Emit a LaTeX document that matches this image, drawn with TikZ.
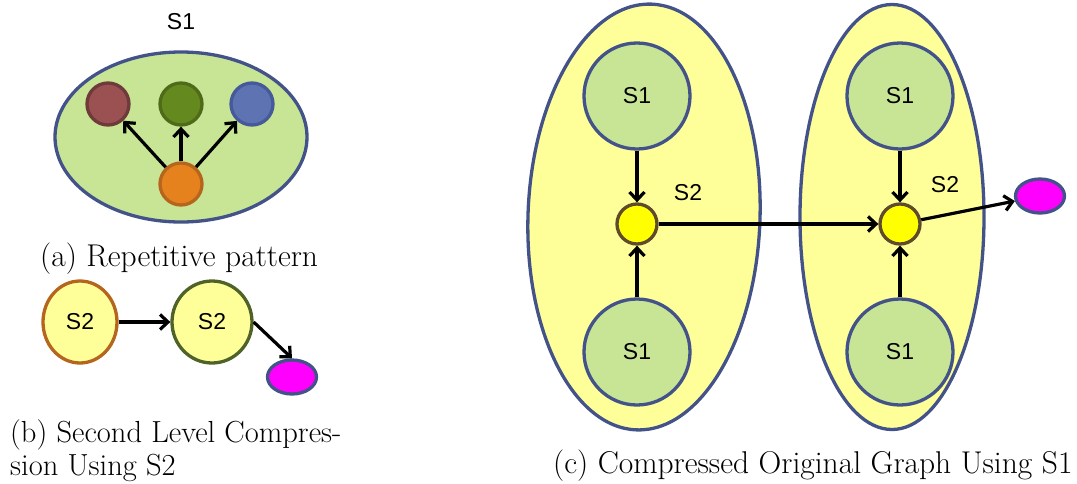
\documentclass[tikz,border=0pt]{standalone}
\usepackage{fontspec}
\newfontfamily\labfont{Liberation Sans}
\usetikzlibrary{arrows.meta,shapes.geometric}

\definecolor{rim}{HTML}{435389}
\definecolor{leaf}{HTML}{C8E596}
\definecolor{pale}{HTML}{FFFF99}
\definecolor{hubfill}{HTML}{FFFF00}
\definecolor{tipfill}{HTML}{FF00FF}
\definecolor{redfill}{HTML}{9B5152}
\definecolor{redrim}{HTML}{6E3A3A}
\definecolor{grnfill}{HTML}{64891E}
\definecolor{grnrim}{HTML}{4F6B1A}
\definecolor{bluefill}{HTML}{5E74B2}
\definecolor{bluerim}{HTML}{46599A}
\definecolor{orfill}{HTML}{E6821E}
\definecolor{orrim}{HTML}{B5651D}
\definecolor{olive}{HTML}{4F6228}
\definecolor{yelrim}{HTML}{5E4B2C}

\tikzset{
  lab/.style={font=\labfont\fontsize{23}{26}\selectfont},
  caption text/.style={font=\fontsize{31.5}{33}\selectfont, inner sep=0pt, anchor=base west},
  dot/.style={circle, inner sep=0pt, minimum size=42, line width=3.3pt},
  blob/.style={ellipse, inner sep=0pt, line width=3.3pt, draw=rim},
  sone/.style={circle, inner sep=0pt, minimum size=106, line width=3.3pt, draw=rim, fill=leaf, lab},
  hub/.style={circle, inner sep=0pt, minimum size=40, line width=3.3pt, draw=yelrim, fill=hubfill},
  tipnode/.style={ellipse, inner sep=0pt, minimum width=49, minimum height=34, line width=3.3pt, draw=rim, fill=tipfill},
  arr/.style={line width=3.2pt, -{Straight Barb[length=8pt,width=15pt,line width=3.2pt]}}
}

\begin{document}
\begin{tikzpicture}[x=1pt,y=-1pt]
\useasboundingbox (0,0) rectangle (1077,483);

% (a) repetitive pattern S1
\node[lab] (s1lab) at (181,22) {S1};
\node[blob, fill=leaf, minimum width=252, minimum height=170] (pat) at (181,137) {};
\node[dot, fill=redfill, draw=redrim] (pr) at (108,104) {};
\node[dot, fill=grnfill, draw=grnrim] (pg) at (181,104) {};
\node[dot, fill=bluefill, draw=bluerim] (pb) at (252,104) {};
\node[dot, fill=orfill, draw=orrim] (po) at (181,184) {};
\draw[arr] (po) -- (pr);
\draw[arr] (po) -- (pg);
\draw[arr] (po) -- (pb);
\node[caption text] (capa) at (40,266) {(a) Repetitive pattern};

% (b) second level compression
\node[ellipse, inner sep=0pt, minimum width=74, minimum height=82, line width=3.3pt, draw=orrim, fill=pale, lab] (ba) at (80,322) {S2};
\node[ellipse, inner sep=0pt, minimum width=80, minimum height=82, line width=3.3pt, draw=olive, fill=pale, lab] (bb) at (212,322) {S2};
\node[tipnode] (bm) at (292,377) {};
\draw[arr] (ba) -- (bb);
\draw[arr] (bb.east) -- (bm.north);
% base anchor of a two-line node sits on the last line
\node[caption text, align=left, font=\fontsize{30.5}{33}\selectfont] (capb) at (10,475) {(b) Second Level Compres-\\sion Using S2};

% (c) compressed original graph
\node[blob, fill=pale, minimum width=232, minimum height=426, rotate=-2] (gl) at (644,217) {};
\node[blob, fill=pale, minimum width=184, minimum height=425] (gr) at (892,217) {};
\node[sone] (lt) at (637,96) {S1};
\node[sone] (lb) at (637,352) {S1};
\node[hub] (ly) at (637,224) {};
\node[lab] (l2) at (688,193) {S2};
\node[sone] (rt) at (900,96) {S1};
\node[sone] (rb) at (900,352) {S1};
\node[hub] (ry) at (900,224) {};
\node[lab] (r2) at (945,185) {S2};
\node[tipnode] (cm) at (1040,196) {};
\draw[arr] (lt) -- (ly);
\draw[arr] (lb) -- (ly);
\draw[arr] (ly) -- (ry);
\draw[arr] (rt) -- (ry);
\draw[arr] (rb) -- (ry);
\draw[arr] (ry) -- (cm);
\node[caption text] (capc) at (553,473) {(c) Compressed Original Graph Using S1};
\end{tikzpicture}
\end{document}
